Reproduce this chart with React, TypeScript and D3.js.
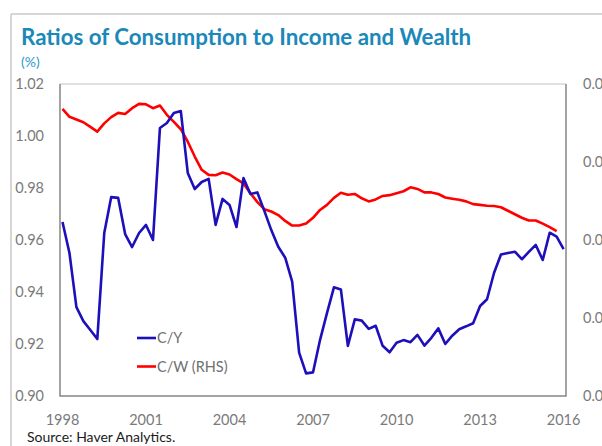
import React, { useEffect, useRef } from 'react'
import * as d3 from 'd3'

// quarterly series, 1998 Q1 onward
const startYear = 1998
const cyValues = [
    0.9669, 0.955, 0.9342, 0.9288, 0.9254, 0.9219, 0.9627, 0.9765, 0.9762, 0.9623, 0.9573, 0.9627, 0.9658,
    0.96, 1.0031, 1.005, 1.0088, 1.0096, 0.9858, 0.9796, 0.9823, 0.9835, 0.9658, 0.9758, 0.9735, 0.965,
    0.9838, 0.9777, 0.9783, 0.9712, 0.9638, 0.9574, 0.9532, 0.944, 0.9167, 0.9087, 0.9091, 0.9215, 0.9319,
    0.9418, 0.941, 0.9193, 0.9295, 0.929, 0.9258, 0.927, 0.9193, 0.9168, 0.9205, 0.9215, 0.9207, 0.9235,
    0.9194, 0.9224, 0.926, 0.92, 0.9232, 0.9257, 0.9268, 0.928, 0.9346, 0.9372, 0.9473, 0.9544, 0.955,
    0.9555, 0.9526, 0.9554, 0.9581, 0.9523, 0.9628, 0.9613, 0.9565,
]
const cwValues = [
    0.04736, 0.04716, 0.04709, 0.04702, 0.0469, 0.04678, 0.04699, 0.04715, 0.04726, 0.04723, 0.04738,
    0.04749, 0.04748, 0.04738, 0.04745, 0.04721, 0.04703, 0.04684, 0.04652, 0.04614, 0.0458, 0.04567,
    0.04566, 0.04573, 0.04568, 0.04556, 0.04545, 0.0452, 0.04497, 0.04479, 0.04473, 0.04464, 0.04449,
    0.04437, 0.04437, 0.04442, 0.04457, 0.04477, 0.0449, 0.04508, 0.04521, 0.04516, 0.04518, 0.04507,
    0.04499, 0.04504, 0.04513, 0.04515, 0.0452, 0.04525, 0.04535, 0.04531, 0.04522, 0.04522, 0.04518,
    0.04509, 0.04506, 0.04503, 0.04499, 0.04492, 0.0449, 0.04488, 0.04487, 0.04484, 0.04475, 0.04466,
    0.04457, 0.0445, 0.0445, 0.04442, 0.04433, 0.04423,
]
const xTicks = [1998, 2001, 2004, 2007, 2010, 2013, 2016]
const leftTicks = [0.9, 0.92, 0.94, 0.96, 0.98, 1.0, 1.02]
const rightTicks = [0.04, 0.042, 0.044, 0.046, 0.048]
const legendItems = [
    { label: 'C/Y', color: '#1d0fb9' },
    { label: 'C/W (RHS)', color: '#ff0000' },
]

const width = 602
const height = 446
const font = 'Lato, "Open Sans", sans-serif'

export default function App() {
    const svgRef = useRef<SVGSVGElement | null>(null)

    useEffect(() => {
        const svg = d3.select(svgRef.current)
        svg.selectAll('*').remove()

        const plot = { left: 60, right: 566, top: 84, bottom: 396 }

        const x = d3.scaleLinear().domain([1998, 2016]).range([62.5, 563.6])
        const yLeft = d3.scaleLinear().domain([0.9, 1.02]).range([plot.bottom, plot.top])
        const yRight = d3.scaleLinear().domain([0.04, 0.048]).range([plot.bottom, plot.top])

        const t = (i: number) => startYear + i / 4

        // outer frame
        svg.append('line')
            .attr('x1', 11).attr('y1', 14).attr('x2', width).attr('y2', 14)
            .attr('stroke', '#c8c8c8').attr('stroke-width', 1.5)
        svg.append('line')
            .attr('x1', 11).attr('y1', 14).attr('x2', 11).attr('y2', height)
            .attr('stroke', '#c8c8c8').attr('stroke-width', 1.5)

        svg.append('text')
            .attr('x', 21).attr('y', 45)
            .attr('font-family', font).attr('font-weight', 'bold').attr('font-size', 22.3)
            .attr('fill', '#1a88b8')
            .text('Ratios of Consumption to Income and Wealth')

        svg.append('text')
            .attr('x', 21).attr('y', 67)
            .attr('font-family', font).attr('font-size', 14)
            .attr('fill', '#2c9ad2')
            .text('(%)')

        // plot box
        svg.append('line')
            .attr('x1', plot.left).attr('x2', plot.right).attr('y1', plot.top).attr('y2', plot.top)
            .attr('stroke', '#d6d6d6').attr('stroke-width', 1.5)
        svg.append('path')
            .attr('d', `M${plot.left},${plot.top}V${plot.bottom}H${plot.right}V${plot.top}`)
            .attr('fill', 'none').attr('stroke', '#858585').attr('stroke-width', 1.5)

        const tickStyle = (sel: d3.Selection<SVGTextElement, any, any, any>) =>
            sel.attr('font-family', font).attr('font-size', 14.5).attr('fill', '#7a7a7a')

        svg.append('g')
            .selectAll('text')
            .data(leftTicks)
            .join('text')
            .attr('x', 44)
            .attr('y', (d) => yLeft(d))
            .attr('dy', '0.35em')
            .attr('text-anchor', 'end')
            .call(tickStyle)
            .text((d) => d3.format('.2f')(d))

        // right axis labels run past the edge, as in the source picture
        svg.append('g')
            .selectAll('text')
            .data(rightTicks)
            .join('text')
            .attr('x', 583)
            .attr('y', (d) => yRight(d))
            .attr('dy', '0.35em')
            .call(tickStyle)
            .text((d) => d3.format('.3f')(d))

        svg.append('g')
            .selectAll('text')
            .data(xTicks)
            .join('text')
            .attr('x', (d) => x(d))
            .attr('y', 425)
            .attr('text-anchor', 'middle')
            .call(tickStyle)
            .text((d) => String(d))

        const line = (yScale: d3.ScaleLinear<number, number>) =>
            d3
                .line<number>()
                .x((_, i) => x(t(i)))
                .y((d) => yScale(d))

        svg.append('path')
            .attr('fill', 'none')
            .attr('stroke', legendItems[1].color)
            .attr('stroke-width', 2.6)
            .attr('stroke-linejoin', 'round')
            .attr('d', line(yRight)(cwValues))

        svg.append('path')
            .attr('fill', 'none')
            .attr('stroke', legendItems[0].color)
            .attr('stroke-width', 2.6)
            .attr('stroke-linejoin', 'round')
            .attr('d', line(yLeft)(cyValues))

        // legend
        const legend = svg.append('g').attr('transform', 'translate(137, 338)')
        legendItems.forEach((item, i) => {
            const g = legend.append('g').attr('transform', `translate(0, ${i * 28.5})`)
            g.append('line').attr('x1', 0).attr('x2', 19).attr('stroke', item.color).attr('stroke-width', 2.6)
            g.append('text')
                .attr('x', 20)
                .attr('dy', '0.35em')
                .attr('font-family', font)
                .attr('font-size', 14.5)
                .attr('fill', '#707070')
                .text(item.label)
        })

        svg.append('text')
            .attr('x', 27).attr('y', 442)
            .attr('font-family', font).attr('font-size', 14)
            .attr('fill', '#1a1a1a')
            .text('Source: Haver Analytics.')
    }, [])

    return (
        <svg
            ref={svgRef}
            width={width}
            height={height}
            style={{ position: 'absolute', left: 0, top: 0, background: '#fff' }}
        />
    )
}
